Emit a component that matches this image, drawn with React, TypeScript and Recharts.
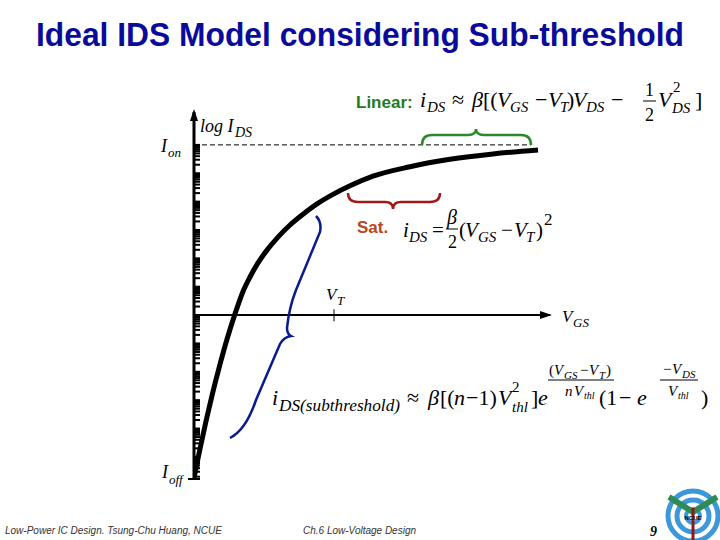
import React from "react";
import { LineChart, Line, XAxis, YAxis, ReferenceLine, ReferenceDot } from "recharts";

// VGS (arbitrary units) and log-scale IDS (normalised, Ion = 1)
const vgs = [
  0.0, 0.03, 0.07, 0.12, 0.18, 0.25, 0.33, 0.41, 0.49, 0.56, 0.64, 0.73, 0.84, 0.96, 1.09, 1.23, 1.39, 1.56, 1.79, 2.16,
  2.56, 2.99, 3.44,
];
const ids = [
  1.8e-12, 5.9e-12, 2.8e-11, 1.8e-10, 1.45e-9, 1.35e-8, 1.4e-7, 1.1e-6, 6.8e-6, 2.2e-5, 6.9e-5, 1.95e-4, 5.6e-4, 1.5e-3,
  3.6e-3, 8.3e-3, 1.8e-2, 3.6e-2, 7.9e-2, 0.17, 0.31, 0.48, 0.66,
];

const ION = 1;
const IOFF = 1.66e-12;
const Y_TOP = 14.45;
const VT = 1.4;
const X_AXIS_LEVEL = 1e-6;
const X_AXIS_END = 3.56;
const DASH_END = 3.37;

const decades = [-12, -11, -10, -9, -8, -7, -6, -5, -4, -3, -2, -1];
const mantissas = [1, 2, 3, 4, 5, 6, 7, 8, 9];

const data = vgs.map((v, i) => ({ vgs: v, ids: ids[i] }));
const yTicks = decades
  .flatMap((d) => mantissas.map((m) => m * Math.pow(10, d)))
  .filter((v) => v >= IOFF)
  .concat([ION]);

const serif = "'Liberation Serif', 'Times New Roman', serif";
const sans = "'Liberation Sans', Arial, sans-serif";

const T = ({ x, y, s = 22, it = true, fill = "#000", len, fam = serif, bold = false, children }: any) => (
  <text
    x={x}
    y={y}
    fontSize={s}
    fontStyle={it ? "italic" : "normal"}
    fontWeight={bold ? "bold" : "normal"}
    fontFamily={fam}
    fill={fill}
    textLength={len}
    lengthAdjust={len ? "spacingAndGlyphs" : undefined}
  >
    {children}
  </text>
);

const UpArrow = (p: any) => (
  <polygon points={`${p.cx},${p.cy - 3} ${p.cx - 4},${p.cy + 9} ${p.cx + 4},${p.cy + 9}`} fill="#000" />
);
const RightArrow = (p: any) => (
  <polygon points={`${p.cx + 2},${p.cy} ${p.cx - 10},${p.cy - 4} ${p.cx - 10},${p.cy + 4}`} fill="#000" />
);

const Overlay = () => (
  <svg width={720} height={540} style={{ position: "absolute", left: 0, top: 0, pointerEvents: "none" }}>
    <text x={360} y={46} textAnchor="middle" fontSize={33} fontWeight="bold" fontFamily={sans} fill="#0b0b9a" textLength={648} lengthAdjust="spacingAndGlyphs">
      Ideal IDS Model considering Sub-threshold
    </text>

    {/* axis labels */}
    <T x={200} y={132} s={18}>log I</T>
    <T x={235} y={137} s={14}>DS</T>
    <T x={161} y={152} s={18}>I</T>
    <T x={168} y={157} s={13}>on</T>
    <T x={162} y={478} s={18}>I</T>
    <T x={169} y={484} s={13}>off</T>
    <line x1={188} y1={479} x2={200} y2={479} stroke="#000" strokeWidth={2} />
    <T x={326} y={300} s={17}>V</T>
    <T x={337} y={305} s={13}>T</T>
    <T x={562} y={322} s={17}>V</T>
    <T x={573} y={327} s={13}>GS</T>

    {/* braces */}
    <path d="M422,145 Q422,135 432,135 L468,135 Q476,135 476,129 Q476,135 484,135 L521,135 Q531,135 531,145" fill="none" stroke="#2a8a2a" strokeWidth={2.5} />
    <path d="M348,193 Q348,202 358,202 L385,202 Q393,202 393,209 Q393,202 401,202 L430,202 Q440,202 440,193" fill="none" stroke="#a01818" strokeWidth={2.5} />
    <path d="M316,216 Q322,222 320,232 L296,290 Q289,308 287,328 Q287,334 291,336 Q284,337 280,344 L256,400 Q246,430 230,438" fill="none" stroke="#0b1a8c" strokeWidth={2.5} />

    {/* linear */}
    <T x={356} y={108} s={17} it={false} bold fam={sans} fill="#1e7b1e">Linear:</T>
    <T x={420} y={107}>i</T>
    <T x={427} y={112} s={15}>DS</T>
    <T x={452} y={107} it={false}>≈</T>
    <T x={472} y={107}>β</T>
    <T x={483} y={107} it={false}>[(</T>
    <T x={497} y={107}>V</T>
    <T x={510} y={112} s={15}>GS</T>
    <T x={535} y={107} it={false}>−</T>
    <T x={548} y={107}>V</T>
    <T x={560} y={112} s={15}>T</T>
    <T x={567} y={107} it={false}>)</T>
    <T x={573} y={107}>V</T>
    <T x={586} y={112} s={15}>DS</T>
    <T x={611} y={107} it={false}>−</T>
    <T x={645} y={96} s={18} it={false}>1</T>
    <line x1={643} y1={101} x2={656} y2={101} stroke="#000" strokeWidth={1} />
    <T x={645} y={121} s={18} it={false}>2</T>
    <T x={658} y={107}>V</T>
    <T x={673} y={92} s={15} it={false}>2</T>
    <T x={672} y={113} s={15}>DS</T>
    <T x={695} y={107} it={false}>]</T>

    {/* saturation */}
    <T x={357} y={233} s={17} it={false} bold fam={sans} fill="#b8461e">Sat.</T>
    <T x={403} y={237} s={21}>i</T>
    <T x={409} y={242} s={15}>DS</T>
    <T x={432} y={237} s={21} it={false}>=</T>
    <T x={447} y={224} s={20}>β</T>
    <line x1={446} y1={229} x2={458} y2={229} stroke="#000" strokeWidth={1} />
    <T x={448} y={248} s={18} it={false}>2</T>
    <T x={459} y={237} s={21} it={false}>(</T>
    <T x={465} y={237} s={21}>V</T>
    <T x={478} y={242} s={15}>GS</T>
    <T x={501} y={237} s={21} it={false}>−</T>
    <T x={514} y={237} s={21}>V</T>
    <T x={526} y={242} s={15}>T</T>
    <T x={536} y={237} s={21} it={false}>)</T>
    <T x={544} y={225} s={17} it={false}>2</T>

    {/* subthreshold */}
    <T x={272} y={405}>i</T>
    <T x={279} y={411} s={16} len={121}>DS(subthreshold)</T>
    <T x={407} y={405} it={false}>≈</T>
    <T x={428} y={405}>β</T>
    <T x={440} y={405} it={false}>[(</T>
    <T x={454} y={405}>n</T>
    <T x={466} y={405} it={false}>−1)</T>
    <T x={498} y={405}>V</T>
    <T x={512} y={392} s={15} it={false}>2</T>
    <T x={512} y={412} s={15}>thl</T>
    <T x={531} y={405} it={false}>]</T>
    <T x={538} y={405}>e</T>
    <T x={549} y={375} s={15} it={false}>(</T>
    <T x={554} y={375} s={15}>V</T>
    <T x={564} y={379} s={11}>GS</T>
    <T x={580} y={375} s={15} it={false}>−</T>
    <T x={589} y={375} s={15}>V</T>
    <T x={599} y={379} s={11}>T</T>
    <T x={606} y={375} s={15} it={false}>)</T>
    <line x1={548} y1={380} x2={614} y2={380} stroke="#000" strokeWidth={1} />
    <T x={565} y={396} s={15}>n</T>
    <T x={574} y={396} s={15}>V</T>
    <T x={584} y={399} s={10}>thl</T>
    <T x={599} y={405} it={false}>(1</T>
    <T x={619} y={405} it={false}>−</T>
    <T x={637} y={405}>e</T>
    <T x={663} y={374} s={15} it={false}>−</T>
    <T x={672} y={374} s={15}>V</T>
    <T x={682} y={378} s={11}>DS</T>
    <line x1={660} y1={380} x2={698} y2={380} stroke="#000" strokeWidth={1} />
    <T x={668} y={396} s={15}>V</T>
    <T x={678} y={399} s={10}>thl</T>
    <T x={701} y={405} it={false}>)</T>

    {/* footer */}
    <T x={5} y={534} s={10} fam={sans} fill="#333">Low-Power IC Design. Tsung-Chu Huang, NCUE</T>
    <T x={303} y={534} s={10} fam={sans} fill="#333">Ch.6 Low-Voltage Design</T>
    <T x={650} y={536} s={14} bold>9</T>

    {/* logo */}
    <circle cx={693} cy={516} r={25} fill="none" stroke="#3d98da" strokeWidth={5} />
    <circle cx={693} cy={516} r={16} fill="none" stroke="#3d98da" strokeWidth={5} />
    <circle cx={693} cy={516} r={7} fill="none" stroke="#3d98da" strokeWidth={4} />
    <path d="M669,497 L693,512 L717,497" fill="none" stroke="#2f8a55" strokeWidth={6} />
    <line x1={693} y1={508} x2={693} y2={540} stroke="#8b1a1a" strokeWidth={3} />
    <text x={693} y={520} textAnchor="middle" fontSize={6} fontWeight="bold" fontFamily={sans} fill="#000">NCUE</text>
  </svg>
);

export default function App() {
  return (
    <div style={{ position: "absolute", left: 0, top: 0, width: 720, height: 540, background: "#fff" }}>
      <LineChart width={720} height={540} data={data} margin={{ top: 112, right: 166, bottom: 61, left: 194 }}>
        <XAxis dataKey="vgs" type="number" domain={[0, 3.6]} hide allowDataOverflow />
        <YAxis
          type="number"
          scale="log"
          domain={[IOFF, Y_TOP]}
          allowDataOverflow
          ticks={yTicks}
          interval={0}
          mirror
          tickSize={6}
          tick={() => <g />}
          tickLine={{ stroke: "#000", strokeWidth: 2 }}
          axisLine={{ stroke: "#000", strokeWidth: 3 }}
        />
        <ReferenceLine segment={[{ x: 0, y: ION }, { x: DASH_END, y: ION }]} stroke="#000" strokeDasharray="5 3" strokeWidth={1} />
        <ReferenceLine segment={[{ x: 0, y: X_AXIS_LEVEL }, { x: X_AXIS_END, y: X_AXIS_LEVEL }]} stroke="#000" strokeWidth={2} />
        <ReferenceLine segment={[{ x: VT, y: 1.6e-6 }, { x: VT, y: 0.6e-6 }]} stroke="#000" strokeWidth={1} />
        <ReferenceDot x={0} y={Y_TOP} shape={UpArrow} />
        <ReferenceDot x={X_AXIS_END} y={X_AXIS_LEVEL} shape={RightArrow} />
        <Line type="monotone" dataKey="ids" stroke="#000" strokeWidth={5} dot={false} isAnimationActive={false} />
      </LineChart>
      <Overlay />
    </div>
  );
}
